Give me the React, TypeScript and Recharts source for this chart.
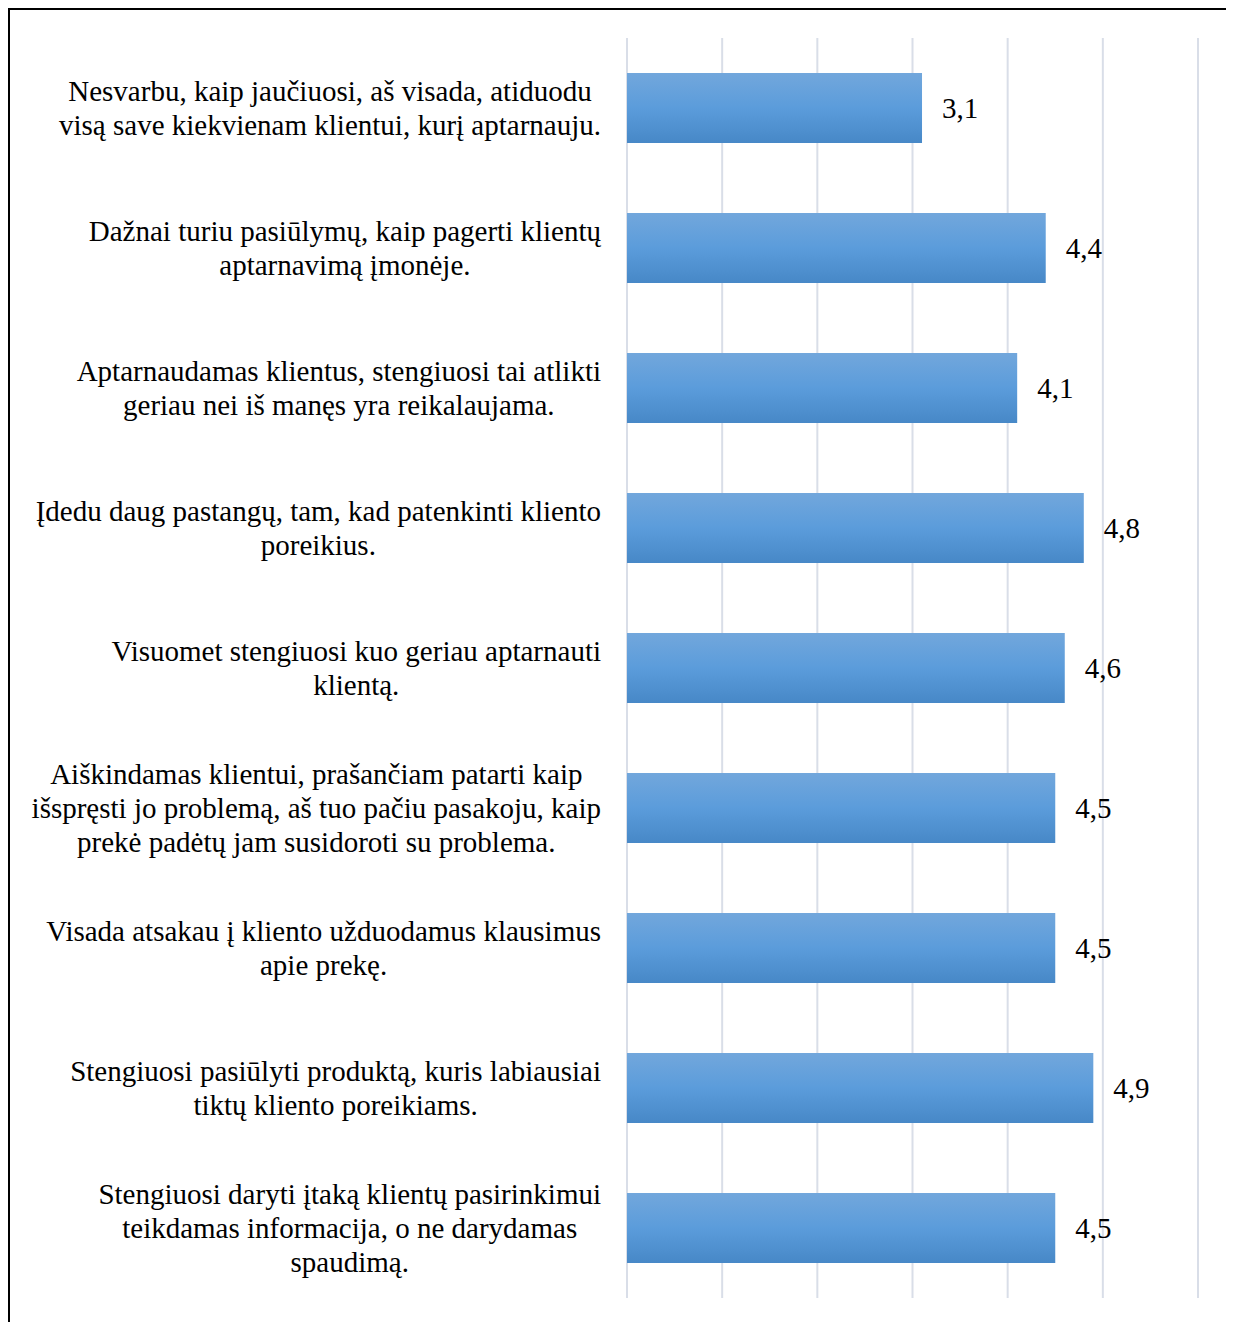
// Horizontal bar chart: average ratings of customer-service statements
import { BarChart, Bar, XAxis, YAxis, CartesianGrid, LabelList } from "recharts";

const categories = [
    "Nesvarbu, kaip jaučiuosi, aš visada, atiduodu\nvisą save kiekvienam klientui, kurį aptarnauju.",
    "Dažnai turiu pasiūlymų, kaip pagerti klientų\naptarnavimą įmonėje.",
    "Aptarnaudamas klientus, stengiuosi tai atlikti\ngeriau nei iš manęs yra reikalaujama.",
    "Įdedu daug pastangų, tam, kad patenkinti kliento\nporeikius.",
    "Visuomet stengiuosi kuo geriau aptarnauti\nklientą.",
    "Aiškindamas klientui, prašančiam patarti kaip\nišspręsti jo problemą, aš tuo pačiu pasakoju, kaip\nprekė padėtų jam susidoroti su problema.",
    "Visada atsakau į kliento užduodamus klausimus\napie prekę.",
    "Stengiuosi pasiūlyti produktą, kuris labiausiai\ntiktų kliento poreikiams.",
    "Stengiuosi daryti įtaką klientų pasirinkimui\nteikdamas informacija, o ne darydamas\nspaudimą.",
];
const values = [3.1, 4.4, 4.1, 4.8, 4.6, 4.5, 4.5, 4.9, 4.5];
const xTicks = [0, 1, 2, 3, 4, 5, 6];

const data = categories.map((name, i) => ({ name, value: values[i] }));

const FONT = "Liberation Serif, Times New Roman, serif";
const FONT_SIZE = 29;
const LINE_H = 34;

let ctx: CanvasRenderingContext2D | null = null;
const measure = (s: string) => {
    if (!ctx) ctx = document.createElement("canvas").getContext("2d");
    if (!ctx) return s.length * 12;
    ctx.font = `${FONT_SIZE}px "Liberation Serif"`;
    return ctx.measureText(s).width;
};

// multi-line label: block right-aligned at the tick, lines centred inside the block
const CategoryTick = ({ x, y, payload }: any) => {
    const lines: string[] = String(payload.value).split("\n");
    const maxW = Math.max(...lines.map(measure));
    const cx = x - maxW / 2;
    const startY = y - ((lines.length - 1) * LINE_H) / 2;
    return (
        <text textAnchor="middle" fontFamily={FONT} fontSize={FONT_SIZE} fill="#000">
            {lines.map((l, i) => (
                <tspan key={i} x={cx} y={startY + i * LINE_H} dominantBaseline="central">
                    {l}
                </tspan>
            ))}
        </text>
    );
};

export default function App() {
    return (
        <div
            style={{
                width: 1216,
                height: 1340,
                border: "2px solid #000",
                background: "#fff",
            }}
        >
            <BarChart
                width={1216}
                height={1300}
                data={data}
                layout="vertical"
                margin={{ top: 28, right: 28, left: 0, bottom: 12 }}
            >
                <defs>
                    <linearGradient id="barGrad" x1="0" y1="0" x2="0" y2="1">
                        <stop offset="0%" stopColor="#72A7DC" />
                        <stop offset="50%" stopColor="#5B9CDB" />
                        <stop offset="100%" stopColor="#4788C7" />
                    </linearGradient>
                </defs>
                <CartesianGrid horizontal={false} stroke="#D9DEE8" strokeWidth={2} />
                <XAxis type="number" domain={[0, 6]} ticks={xTicks} hide />
                <YAxis
                    type="category"
                    dataKey="name"
                    width={617}
                    axisLine={false}
                    tickLine={false}
                    tickSize={0}
                    tickMargin={26}
                    interval={0}
                    tick={<CategoryTick />}
                />
                <Bar dataKey="value" fill="url(#barGrad)" barSize={70} isAnimationActive={false}>
                    <LabelList
                        dataKey="value"
                        position="right"
                        offset={20}
                        formatter={(v: any) => Number(v).toFixed(1).replace(".", ",")}
                        style={{ fontFamily: FONT, fontSize: FONT_SIZE, fill: "#000" }}
                    />
                </Bar>
            </BarChart>
        </div>
    );
}
